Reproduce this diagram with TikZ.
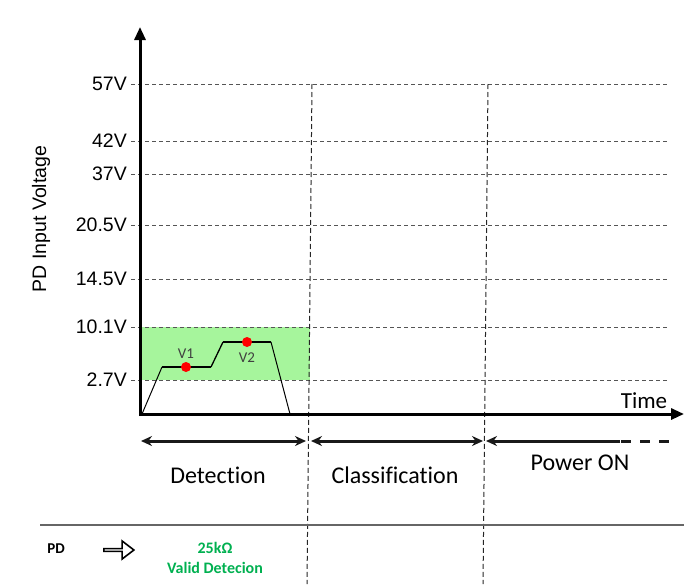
\documentclass[tikz,border=0pt]{standalone}
\usepackage{fontspec}
\setmainfont{Liberation Sans}
\newfontfamily\calfont[Ligatures=NoCommon]{Carlito}
\usepackage{tikz}
\usetikzlibrary{arrows,arrows.meta,shapes.arrows}

\definecolor{gridgray}{RGB}{85,85,85}
\definecolor{zonegreen}{RGB}{166,245,156}
\definecolor{validgreen}{RGB}{0,176,80}
\definecolor{labelgray}{RGB}{64,64,64}

\tikzset{
  voltline/.style={gridgray,line width=1pt,dash pattern=on 4pt off 3pt},
  phaseline/.style={black!85,line width=1pt,dash pattern=on 5pt off 3pt},
  axisline/.style={black,line width=3pt,-{Triangle[length=13pt,width=11pt]}},
  phasearrow/.style={black!90,line width=3pt},
  phasetip/.tip={Stealth[length=11pt,width=10pt]},
  voltlabel/.style={anchor=east,inner sep=0pt,font=\fontsize{19.5}{22}\selectfont},
  phaselabel/.style={font=\calfont\fontsize{24}{28}\selectfont},
  dotmark/.style={circle,fill=red,inner sep=0pt,minimum size=10pt},
  vlabel/.style={labelgray,font=\calfont\fontsize{15}{18}\selectfont},
  validtext/.style={validgreen,font=\calfont\bfseries\fontsize{16}{19}\selectfont}
}

\begin{document}
\begin{tikzpicture}[x=1pt,y=-1pt]
  \useasboundingbox (0,0) rectangle (700,584);

          % detection window
          \fill[zonegreen] (140,327) rectangle (310,380);

          % voltage levels
          \draw[voltline] (131,84) -- (668,84);
          \draw[voltline] (131,141) -- (668,141);
          \draw[voltline] (131,174) -- (668,174);
          \draw[voltline] (131,225) -- (668,225);
          \draw[voltline] (131,279) -- (668,279);
          \draw[voltline] (131,327) -- (668,327);
          \draw[voltline] (131,380) -- (668,380);

          \node[voltlabel] (v57) at (127,84) {57V};
          \node[voltlabel] (v42) at (127,141) {42V};
          \node[voltlabel] (v37) at (127,174) {37V};
          \node[voltlabel] (v205) at (127,225) {20.5V};
          \node[voltlabel] (v145) at (127,279) {14.5V};
          \node[voltlabel] (v101) at (127,327) {10.1V};
          \node[voltlabel] (v27) at (127,380) {2.7V};

          % phase boundaries
          \draw[phaseline] (312,84) -- (307,584);
          \draw[phaseline] (488,84) -- (483,584);

          % axes
          \draw[axisline] (140,416) -- (140,27);
          \draw[axisline] (139,414) -- (684,414);
          \node[rotate=90,font=\fontsize{19.5}{22}\selectfont] (ylabel) at (41,219) {PD Input Voltage};
          \node[font=\calfont\fontsize{23}{26}\selectfont] (timelbl) at (644,401) {Time};

          % PD voltage during detection
          \draw[black,line width=1pt] (142,414) -- (162,367);
          \draw[black,line width=2.5pt] (162,367) -- (211,367);
          \draw[black,line width=1.3pt] (211,367) -- (223,342);
          \draw[black,line width=2.5pt] (223,342) -- (271,342);
          \draw[black,line width=1pt] (271,342) -- (290,414);

          \node[dotmark] (dot1) at (186,367) {};
          \node[dotmark] (dot2) at (247,342) {};
          \node[vlabel] (lblv1) at (186,354) {V1};
          \node[vlabel] (lblv2) at (247,358) {V2};

          % phases
          \coordinate (detL) at (141,441);
          \coordinate (detR) at (306,441);
          \coordinate (claL) at (311,441);
          \coordinate (claR) at (483,441);
          \coordinate (powL) at (486,441);
          \coordinate (powM) at (620,441);
          \coordinate (powR) at (669,441);
          \draw[phasearrow,phasetip-phasetip] (detL) -- (detR);
          \draw[phasearrow,phasetip-phasetip] (claL) -- (claR);
          \draw[phasearrow,phasetip-] (powL) -- (powM);
          \draw[phasearrow,dash pattern=on 10pt off 9pt] ([xshift=1pt]powM) -- (powR);

          \node[phaselabel] (detlbl) at (218,475) {Detection};
          \node[phaselabel] (clalbl) at (395,475) {Classification};
          \node[phaselabel] (powlbl) at (580,463) {Power ON};

          % PD row
          \draw[black!60,line width=2.5pt] (40,525) -- (684,525);
          \node[font=\calfont\bfseries\fontsize{15}{18}\selectfont] (pd) at (56,549) {PD};
          \node[single arrow,draw,line width=1.6pt,minimum height=30pt,minimum width=18pt,
                single arrow head extend=4.5pt,single arrow tip angle=75,inner sep=0pt] (pdarrow) at (118,550) {};
          \node[validtext] (res) at (215,548) {25kΩ};
          \node[validtext] (valid) at (215,568) {Valid Detecion};

%          \draw[red] (0,0) rectangle (700,584);
\end{tikzpicture}
\end{document}
